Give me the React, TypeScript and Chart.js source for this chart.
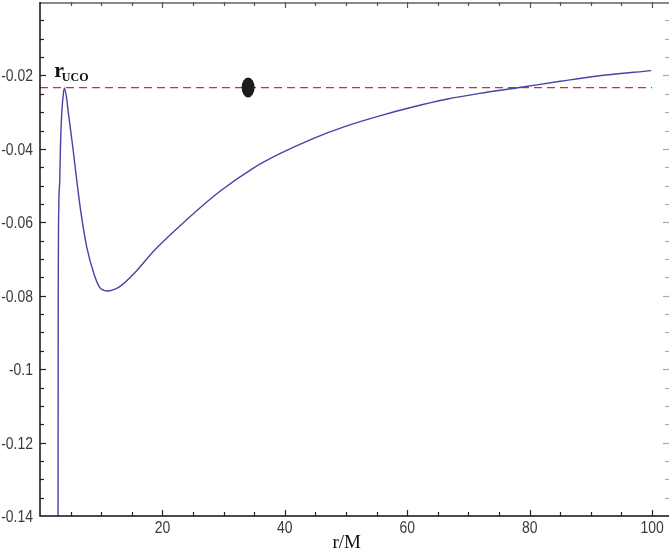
import React, { useEffect, useRef } from 'react';
import { Chart, registerables } from 'chart.js';

Chart.register(...registerables);

// radius r/M
const rValues = [2.9, 2.95, 2.97, 3.07, 3.23, 3.34, 3.55, 3.77, 3.97, 4.31, 4.64, 5.35, 6.0, 6.71, 7.63, 8.78, 9.7, 10.96, 12.97, 15.4, 18.7, 23.9, 29.3, 34.8, 39.1, 44.6, 50, 55.5, 60.9, 66.4, 71.8, 78.3, 85, 91.4, 99.85];
// effective potential
const potential = [-0.16, -0.14, -0.09, -0.0558, -0.0485, -0.0394, -0.0303, -0.0258, -0.0234, -0.0258, -0.0303, -0.0394, -0.0485, -0.0576, -0.0667, -0.0739, -0.0776, -0.0787, -0.0776, -0.0739, -0.0676, -0.0594, -0.0517, -0.0453, -0.0414, -0.0372, -0.0338, -0.031, -0.0286, -0.0265, -0.0249, -0.0233, -0.0216, -0.0201, -0.0187];

const xTickValues = [20, 40, 60, 80, 100];
const yTickValues = [-0.14, -0.12, -0.1, -0.08, -0.06, -0.04, -0.02];
const xMinorStep = 5;
const yMinorStep = 0.005;

const ucoLevel = [-0.0233, -0.0233];
const ucoRange = [0, 100];
const ucoPeakR = 3.97;
const dotR = [34];
const dotV = [-0.0233];

const X_MIN = 0;
const X_MAX = 102.6;
const Y_MIN = -0.14;
const Y_MAX = 0;

const fmt = (v: number) => String(Math.round(v * 1000) / 1000);

function condensedText(ctx: any, text: string, x: number, y: number, align: 'left' | 'right' | 'center') {
  const sx = 0.82;
  ctx.save();
  ctx.font = '17px "Liberation Sans", Arial, sans-serif';
  ctx.textBaseline = 'alphabetic';
  ctx.textAlign = 'left';
  const w = ctx.measureText(text).width * sx;
  let left = x;
  if (align === 'right') left = x - w;
  if (align === 'center') left = x - w / 2;
  ctx.translate(left, y);
  ctx.scale(sx, 1);
  ctx.fillText(text, 0, 0);
  ctx.restore();
}

const framePlugin = {
  id: 'frame',
  afterDatasetsDraw(chart: any) {
    const { ctx, chartArea: a, scales } = chart;
    const xs = scales.x;
    const ys = scales.y;
    ctx.save();
    ctx.setLineDash([]);
    // dot
    ctx.fillStyle = '#1c1c1c';
    ctx.beginPath();
    ctx.ellipse(xs.getPixelForValue(dotR[0]), ys.getPixelForValue(dotV[0]), 6.5, 10, 0, 0, Math.PI * 2);
    ctx.fill();

    // frame lines
    ctx.lineWidth = 2;
    ctx.strokeStyle = '#8a8a8a';
    ctx.beginPath();
    ctx.moveTo(a.left, a.top + 1);
    ctx.lineTo(a.right + 1, a.top + 1);
    ctx.stroke();
    ctx.lineWidth = 1.5;
    ctx.strokeStyle = '#111';
    ctx.beginPath();
    ctx.moveTo(a.left, a.top);
    ctx.lineTo(a.left, a.bottom);
    ctx.lineTo(a.right + 1, a.bottom);
    ctx.stroke();

    // x ticks
    ctx.lineWidth = 1.2;
    for (let v = xMinorStep; v <= 100 + 1e-9; v += xMinorStep) {
      const px = Math.round(xs.getPixelForValue(v)) + 0.5;
      const major = Math.abs(v % 20) < 1e-9;
      const len = major ? 6 : 4;
      ctx.strokeStyle = '#222';
      ctx.beginPath();
      ctx.moveTo(px, a.bottom);
      ctx.lineTo(px, a.bottom - len);
      ctx.stroke();
      ctx.strokeStyle = '#555';
      ctx.beginPath();
      ctx.moveTo(px, a.top);
      ctx.lineTo(px, a.top + len);
      ctx.stroke();
    }
    // y ticks
    const n = Math.round((Y_MAX - Y_MIN) / yMinorStep);
    for (let i = 1; i < n; i++) {
      const v = Y_MIN + i * yMinorStep;
      const py = Math.round(ys.getPixelForValue(v)) + 0.5;
      const major = i % 4 === 0;
      const len = major ? 6 : 4;
      ctx.strokeStyle = '#222';
      ctx.beginPath();
      ctx.moveTo(a.left, py);
      ctx.lineTo(a.left + len, py);
      ctx.stroke();
      ctx.strokeStyle = '#aaa';
      ctx.beginPath();
      ctx.moveTo(a.right + 1, py);
      ctx.lineTo(a.right + 1 - len, py);
      ctx.stroke();
    }

    // tick labels
    ctx.fillStyle = '#3a3a3a';
    xTickValues.forEach((v) => condensedText(ctx, fmt(v), xs.getPixelForValue(v), a.bottom + 17, 'center'));
    yTickValues.forEach((v) => condensedText(ctx, fmt(v), a.left - 7, ys.getPixelForValue(v) + 6, 'right'));

    // r_UCO label
    const peakX = xs.getPixelForValue(ucoPeakR);
    const lvlY = ys.getPixelForValue(ucoLevel[0]);
    ctx.fillStyle = '#111';
    ctx.textAlign = 'left';
    ctx.textBaseline = 'alphabetic';
    ctx.font = 'bold 22px "Liberation Serif", serif';
    ctx.fillText('r', peakX - 10, lvlY - 11);
    ctx.font = 'bold 12px "Liberation Serif", serif';
    ctx.fillText('UCO', peakX - 2.5, lvlY - 6.5);

    // axis title
    ctx.font = '19px "Liberation Serif", serif';
    ctx.textAlign = 'center';
    ctx.fillStyle = '#111';
    ctx.fillText('r/M', xs.getPixelForValue(50.1), a.bottom + 32);
    ctx.restore();
  },
};

export default function App() {
  const ref = useRef<HTMLCanvasElement | null>(null);
  useEffect(() => {
    if (!ref.current) return;
    const chart = new Chart(ref.current, {
      type: 'line',
      data: {
        datasets: [
          {
            data: rValues.map((r, i) => ({ x: r, y: potential[i] })),
            borderColor: '#4444a8',
            borderWidth: 1.4,
            pointRadius: 0,
            cubicInterpolationMode: 'monotone',
            fill: false,
          },
          {
            data: ucoRange.map((r, i) => ({ x: r, y: ucoLevel[i] })),
            borderColor: '#e02828',
            borderWidth: 1.2,
            borderDash: [8, 5],
            pointRadius: 0,
            fill: false,
          },
        ],
      },
      options: {
        responsive: false,
        animation: false,
        events: [],
        layout: { padding: { top: 2, right: 1, left: 0, bottom: 0 } },
        plugins: { legend: { display: false }, tooltip: { enabled: false } },
        scales: {
          x: {
            type: 'linear',
            min: X_MIN,
            max: X_MAX,
            grid: { display: false, drawTicks: false },
            border: { display: false },
            afterFit: (s: any) => { s.height = 38; },
            ticks: { display: false },
          },
          y: {
            type: 'linear',
            min: Y_MIN,
            max: Y_MAX,
            grid: { display: false, drawTicks: false },
            border: { display: false },
            afterFit: (s: any) => { s.width = 40; },
            ticks: { display: false },
          },
        },
      },
      plugins: [framePlugin],
    } as any);
    return () => chart.destroy();
  }, []);
  return (
    <div style={{ position: 'fixed', left: 0, top: 0, width: 669, height: 554, background: '#fff' }}>
      <canvas ref={ref} width={669} height={554} style={{ display: 'block' }} />
    </div>
  );
}
